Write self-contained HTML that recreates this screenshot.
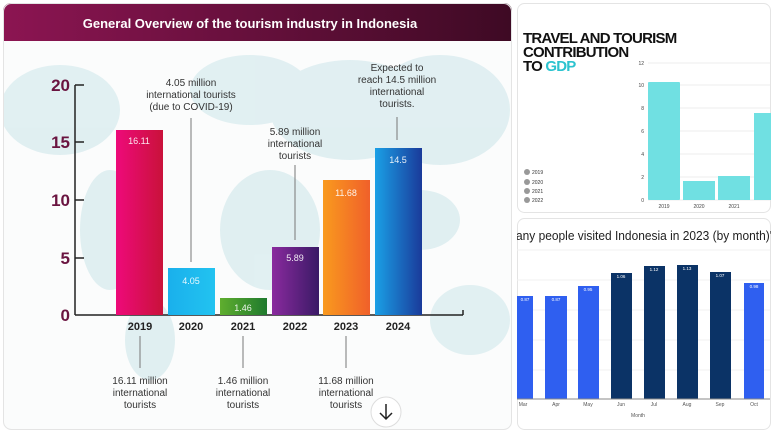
<!DOCTYPE html>
<html><head><meta charset="utf-8"><style>
body{margin:0;width:776px;height:435px;background:#fff;overflow:hidden;font-family:"Liberation Sans",sans-serif}
svg{position:absolute;left:0;top:0}
</style></head><body>
<svg width="776" height="435" viewBox="0 0 776 435">
<defs>
<linearGradient id="hd" x1="0" x2="1"><stop offset="0" stop-color="#8c1552"/><stop offset="1" stop-color="#3e0a24"/></linearGradient>
<linearGradient id="b1" x1="0" x2="1"><stop offset="0" stop-color="#ee0a7a"/><stop offset="1" stop-color="#c9123a"/></linearGradient>
<linearGradient id="b2" x1="0" x2="1"><stop offset="0" stop-color="#1ab0ec"/><stop offset="1" stop-color="#22c3f0"/></linearGradient>
<linearGradient id="b3" x1="0" x2="1"><stop offset="0" stop-color="#5fae2e"/><stop offset="1" stop-color="#1f7a2e"/></linearGradient>
<linearGradient id="b4" x1="0" x2="1"><stop offset="0" stop-color="#8a2a9e"/><stop offset="1" stop-color="#3a1a66"/></linearGradient>
<linearGradient id="b5" x1="0" x2="1"><stop offset="0" stop-color="#f99a1e"/><stop offset="1" stop-color="#f0602a"/></linearGradient>
<linearGradient id="b6" x1="0" x2="1"><stop offset="0" stop-color="#1aa0e6"/><stop offset="1" stop-color="#1a3a9a"/></linearGradient>
<clipPath id="lc"><rect x="3" y="3" width="509" height="427" rx="8"/></clipPath>
<clipPath id="rb"><rect x="517" y="218" width="254" height="212" rx="7"/></clipPath>
</defs>
<g clip-path="url(#lc)">
<rect x="3" y="3" width="509" height="427" fill="#fbfcfc"/>
<g fill="#dcedf0" opacity="0.85">
<ellipse cx="60" cy="110" rx="60" ry="45"/><ellipse cx="110" cy="230" rx="30" ry="60"/>
<ellipse cx="150" cy="340" rx="25" ry="40"/><ellipse cx="250" cy="90" rx="60" ry="35"/>
<ellipse cx="270" cy="230" rx="50" ry="60"/><ellipse cx="350" cy="110" rx="80" ry="50"/>
<ellipse cx="440" cy="110" rx="70" ry="55"/><ellipse cx="470" cy="320" rx="40" ry="35"/>
<ellipse cx="420" cy="220" rx="40" ry="30"/>
</g>
<rect x="3" y="3" width="509" height="38" fill="url(#hd)"/>
</g>
<rect x="3.5" y="3.5" width="508" height="426" rx="8" fill="none" stroke="#e4e4e4"/>
<text x="250" y="28" text-anchor="middle" fill="#fff" font-size="13" font-weight="bold">General Overview of the tourism industry in Indonesia</text>
<g font-size="17" font-weight="bold" fill="#6a1440" text-anchor="end">
<text x="70" y="91">20</text><text x="70" y="148">15</text><text x="70" y="206">10</text><text x="70" y="264">5</text><text x="70" y="321">0</text>
</g>
<g stroke="#222" stroke-width="1.5">
<line x1="75" y1="85" x2="75" y2="315"/><line x1="75" y1="315" x2="463" y2="315"/>
<line x1="75" y1="85" x2="84" y2="85"/><line x1="75" y1="142" x2="84" y2="142"/><line x1="75" y1="200" x2="84" y2="200"/><line x1="75" y1="258" x2="84" y2="258"/>
<line x1="463" y1="310" x2="463" y2="315"/>
</g>
<rect x="116" y="130" width="47" height="185" fill="url(#b1)"/>
<rect x="168" y="268" width="47" height="47" fill="url(#b2)"/>
<rect x="220" y="298" width="47" height="17" fill="url(#b3)"/>
<rect x="272" y="247" width="47" height="68" fill="url(#b4)"/>
<rect x="323" y="180" width="47" height="135" fill="url(#b5)"/>
<rect x="375" y="148" width="47" height="167" fill="url(#b6)"/>
<g fill="#fff" font-size="9" text-anchor="middle" opacity="0.9">
<text x="139" y="144">16.11</text><text x="191" y="284">4.05</text><text x="243" y="311">1.46</text><text x="295" y="261">5.89</text><text x="346" y="196">11.68</text><text x="398" y="163">14.5</text>
</g>
<g font-size="11" font-weight="bold" fill="#222" text-anchor="middle">
<text x="140" y="330">2019</text><text x="191" y="330">2020</text><text x="243" y="330">2021</text><text x="295" y="330">2022</text><text x="346" y="330">2023</text><text x="398" y="330">2024</text>
</g>
<g stroke="#777" stroke-width="1">
<line x1="191" y1="118" x2="191" y2="262"/><line x1="295" y1="165" x2="295" y2="240"/><line x1="397" y1="117" x2="397" y2="140"/>
<line x1="140" y1="336" x2="140" y2="368"/><line x1="243" y1="336" x2="243" y2="368"/><line x1="346" y1="336" x2="346" y2="368"/>
</g>
<g font-size="10" fill="#333" text-anchor="middle">
<text x="191" y="86">4.05 million</text><text x="191" y="98">international tourists</text><text x="191" y="110">(due to COVID-19)</text>
<text x="295" y="135">5.89 million</text><text x="295" y="147">international</text><text x="295" y="159">tourists</text>
<text x="397" y="71">Expected to</text><text x="397" y="83">reach 14.5 million</text><text x="397" y="95">international</text><text x="397" y="107">tourists.</text>
<text x="140" y="384">16.11 million</text><text x="140" y="396">international</text><text x="140" y="408">tourists</text>
<text x="243" y="384">1.46 million</text><text x="243" y="396">international</text><text x="243" y="408">tourists</text>
<text x="346" y="384">11.68 million</text><text x="346" y="396">international</text><text x="346" y="408">tourists</text>
</g>
<circle cx="386" cy="412" r="15" fill="#fff" stroke="#ddd"/>
<path d="M386 404v15M380 413l6 6 6-6" stroke="#222" stroke-width="1.5" fill="none"/>

<rect x="517.5" y="3.5" width="253" height="209" rx="7" fill="#fff" stroke="#e4e4e4"/>
<g font-size="15" font-weight="900" fill="#111" letter-spacing="-0.8">
<text x="523" y="43">TRAVEL AND TOURISM</text><text x="523" y="57">CONTRIBUTION</text><text x="523" y="71">TO <tspan fill="#2cc3cf">GDP</tspan></text>
</g>
<g stroke="#ececec"><line x1="648" y1="63" x2="770" y2="63"/><line x1="648" y1="85" x2="770" y2="85"/><line x1="648" y1="108" x2="770" y2="108"/><line x1="648" y1="131" x2="770" y2="131"/><line x1="648" y1="154" x2="770" y2="154"/><line x1="648" y1="177" x2="770" y2="177"/><line x1="648" y1="200" x2="770" y2="200"/></g>
<g font-size="5" fill="#444" text-anchor="end"><text x="644" y="65">12</text><text x="644" y="87">10</text><text x="644" y="110">8</text><text x="644" y="133">6</text><text x="644" y="156">4</text><text x="644" y="179">2</text><text x="644" y="202">0</text></g>
<g fill="#70e0e2"><rect x="648" y="82" width="32" height="118" rx="1"/><rect x="683" y="181" width="32" height="19"/><rect x="718" y="176" width="32" height="24"/><rect x="754" y="113" width="17" height="87"/></g>
<g font-size="5" fill="#444" text-anchor="middle"><text x="664" y="208">2019</text><text x="699" y="208">2020</text><text x="734" y="208">2021</text></g>
<g fill="#999"><circle cx="527" cy="172" r="3"/><circle cx="527" cy="182" r="3"/><circle cx="527" cy="191" r="3"/><circle cx="527" cy="200" r="3"/></g>
<g font-size="5" fill="#333"><text x="532" y="174">2019</text><text x="532" y="184">2020</text><text x="532" y="193">2021</text><text x="532" y="202">2022</text></g>

<rect x="517.5" y="218.5" width="253" height="211" rx="7" fill="#fff" stroke="#e4e4e4"/>
<g clip-path="url(#rb)">
<text x="516" y="240" font-size="13" fill="#222" textLength="256" lengthAdjust="spacingAndGlyphs">any people visited Indonesia in 2023 (by month)'</text>
<g stroke="#f0f0f0"><line x1="517" y1="250" x2="770" y2="250"/><line x1="517" y1="280" x2="770" y2="280"/><line x1="517" y1="310" x2="770" y2="310"/><line x1="517" y1="340" x2="770" y2="340"/><line x1="517" y1="370" x2="770" y2="370"/></g>
<g fill="#2f5ff0"><rect x="517" y="296" width="16" height="103"/><rect x="545" y="296" width="22" height="103"/><rect x="578" y="286" width="21" height="113"/><rect x="744" y="283" width="20" height="116"/></g>
<g fill="#0b3366"><rect x="611" y="273" width="21" height="126"/><rect x="644" y="266" width="21" height="133"/><rect x="677" y="265" width="21" height="134"/><rect x="710" y="272" width="21" height="127"/></g>
<line x1="517" y1="399" x2="770" y2="399" stroke="#888"/>
</g>
<g font-size="4.5" fill="#fff" text-anchor="middle"><text x="525" y="301">0.87</text><text x="556" y="301">0.87</text><text x="588" y="291">0.95</text><text x="621" y="278">1.06</text><text x="654" y="271">1.12</text><text x="687" y="270">1.13</text><text x="720" y="277">1.07</text><text x="754" y="288">0.98</text></g>
<g font-size="5" fill="#555" text-anchor="middle"><text x="523" y="406">Mar</text><text x="556" y="406">Apr</text><text x="588" y="406">May</text><text x="621" y="406">Jun</text><text x="654" y="406">Jul</text><text x="687" y="406">Aug</text><text x="720" y="406">Sep</text><text x="754" y="406">Oct</text><text x="638" y="417">Month</text></g>
</svg>
</body></html>
